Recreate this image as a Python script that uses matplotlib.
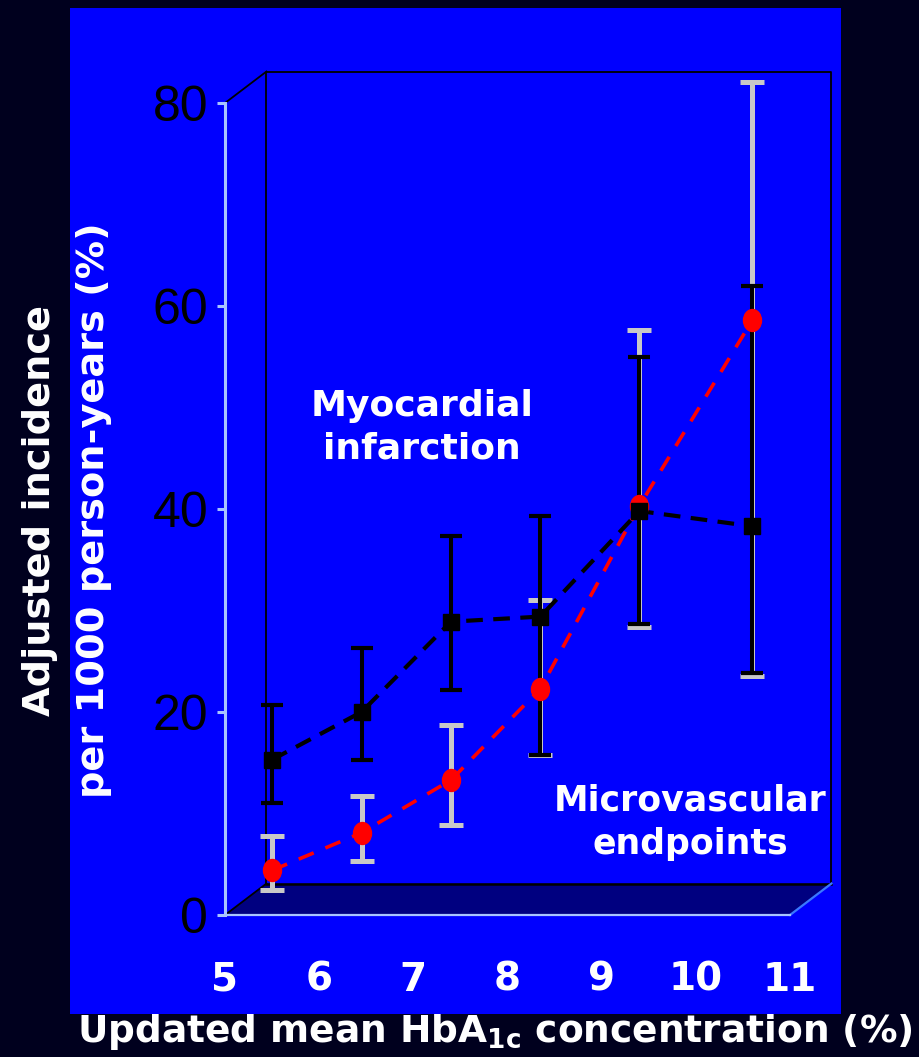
import matplotlib
matplotlib.use('Agg')
import matplotlib.pyplot as plt
from matplotlib.patches import Rectangle, Polygon
from matplotlib.path import Path
from matplotlib.transforms import Affine2D

# HbA1c category means and incidence per 1000 person-years
hba1c = [5.5, 6.45, 7.4, 8.35, 9.4, 10.6]
mi = [15.3, 20.0, 28.9, 29.4, 39.8, 38.3]
mi_low = [11.0, 15.3, 22.2, 15.8, 28.7, 23.8]
mi_high = [20.7, 26.3, 37.3, 39.3, 55.0, 62.0]
micro = [4.4, 8.1, 13.3, 22.3, 40.3, 58.6]
micro_low = [2.5, 5.3, 8.9, 15.8, 28.4, 23.5]
micro_high = [7.8, 11.7, 18.7, 31.0, 57.6, 82.1]
x_ticks = [5, 6, 7, 8, 9, 10, 11]
y_ticks = [0, 20, 40, 60, 80]

W, H = 919, 1057
BG = '#00001e'
BLUE = '#0000ff'
LIGHT = '#a8c4ff'

fig = plt.figure(figsize=(W / 100, H / 100), dpi=100, facecolor=BG)

# blue slide panel
fig.patches.append(Rectangle((70 / W, 1 - 1014 / H), 771 / W, 1006 / H,
                             transform=fig.transFigure, facecolor=BLUE,
                             edgecolor='none', zorder=-1))

ax = fig.add_axes([225 / W, 1 - 915 / H, 565 / W, 812 / H])
ax.patch.set_alpha(0)
ax.set_xlim(5, 11)
ax.set_ylim(0, 80)
for s in ax.spines.values():
    s.set_visible(False)

# pseudo-3D box
dx, dy = 0.44, 3.1
floor = Polygon([(5, 0), (11, 0), (11 + dx, dy), (5 + dx, dy)], closed=True,
                facecolor='#000080', edgecolor='none', clip_on=False, zorder=1)
ax.add_patch(floor)
box = dict(color='black', lw=1.3, clip_on=False, zorder=1.5)
ax.plot([5 + dx, 5 + dx, 11 + dx, 11 + dx], [dy, 80 + dy, 80 + dy, dy], **box)
ax.plot([5 + dx, 11 + dx], [dy, dy], color='black', lw=1.8, clip_on=False, zorder=1.5)
ax.plot([5, 5 + dx], [80, 80 + dy], **box)
ax.plot([5, 5 + dx], [0, dy], **box)
ax.plot([11, 11 + dx], [0, dy], color='#3a78ff', lw=1.6, clip_on=False, zorder=1.6)
ax.plot([5, 11], [0, 0], color=LIGHT, lw=1.6, clip_on=False, zorder=1.6)
ax.plot([5, 5], [0, 80], color=LIGHT, lw=2.2, clip_on=False, zorder=1.6)

# error bars
ax.errorbar(hba1c, micro,
            yerr=[[m - l for m, l in zip(micro, micro_low)],
                  [h - m for m, h in zip(micro, micro_high)]],
            fmt='none', ecolor='#c8c8c8', elinewidth=3.6, capsize=8.5,
            capthick=3.6, zorder=2, clip_on=False)
ax.errorbar(hba1c, mi,
            yerr=[[m - l for m, l in zip(mi, mi_low)],
                  [h - m for m, h in zip(mi, mi_high)]],
            fmt='none', ecolor='black', elinewidth=2.9, capsize=8.2,
            capthick=3, zorder=3, clip_on=False)

# lines and markers
ax.plot(hba1c, mi, color='black', lw=3, dashes=(4, 2.5), zorder=4)
ax.plot(hba1c, micro, color='red', lw=2.6, dashes=(4.5, 3.5), zorder=5)
ellipse = Path.unit_circle().transformed(Affine2D().scale(0.82, 1.0))
ax.plot(hba1c, micro, linestyle='none', marker=ellipse, markersize=15.8,
        color='red', zorder=6)
ax.plot(hba1c, mi, linestyle='none', marker='s', markersize=11,
        color='black', zorder=7)

# ticks
ax.set_xticks(x_ticks)
ax.set_xticklabels([str(v) for v in x_ticks], fontsize=28, fontweight='bold',
                   color='white', family='DejaVu Sans')
ax.tick_params(axis='x', length=0, pad=33)
ax.set_yticks(y_ticks)
ax.set_yticklabels([str(v) for v in y_ticks], fontsize=36, color='black',
                   family=['Liberation Sans', 'DejaVu Sans'])
ax.tick_params(axis='y', length=6, width=2.2, color=LIGHT, pad=6)

# annotations
fig.text(422 / W, 1 - 427 / H, 'Myocardial\ninfarction', ha='center', va='center',
         fontsize=26, fontweight='bold', color='white', linespacing=1.3)
fig.text(690 / W, 1 - 822 / H, 'Microvascular\nendpoints', ha='center', va='center',
         fontsize=25, fontweight='bold', color='white', linespacing=1.35)

fig.text(67 / W, 1 - 510 / H, 'Adjusted incidence\nper 1000 person-years (%)',
         ha='center', va='center', rotation=90, fontsize=27.5, fontweight='bold',
         color='white', linespacing=1.65)
fig.text(495 / W, 1 - 1032 / H, r'Updated mean HbA$_{\mathbf{1c}}$ concentration (%)',
         ha='center', va='center', fontsize=27, fontweight='bold', color='white')

fig.savefig('out.png', dpi=100, facecolor=BG)
